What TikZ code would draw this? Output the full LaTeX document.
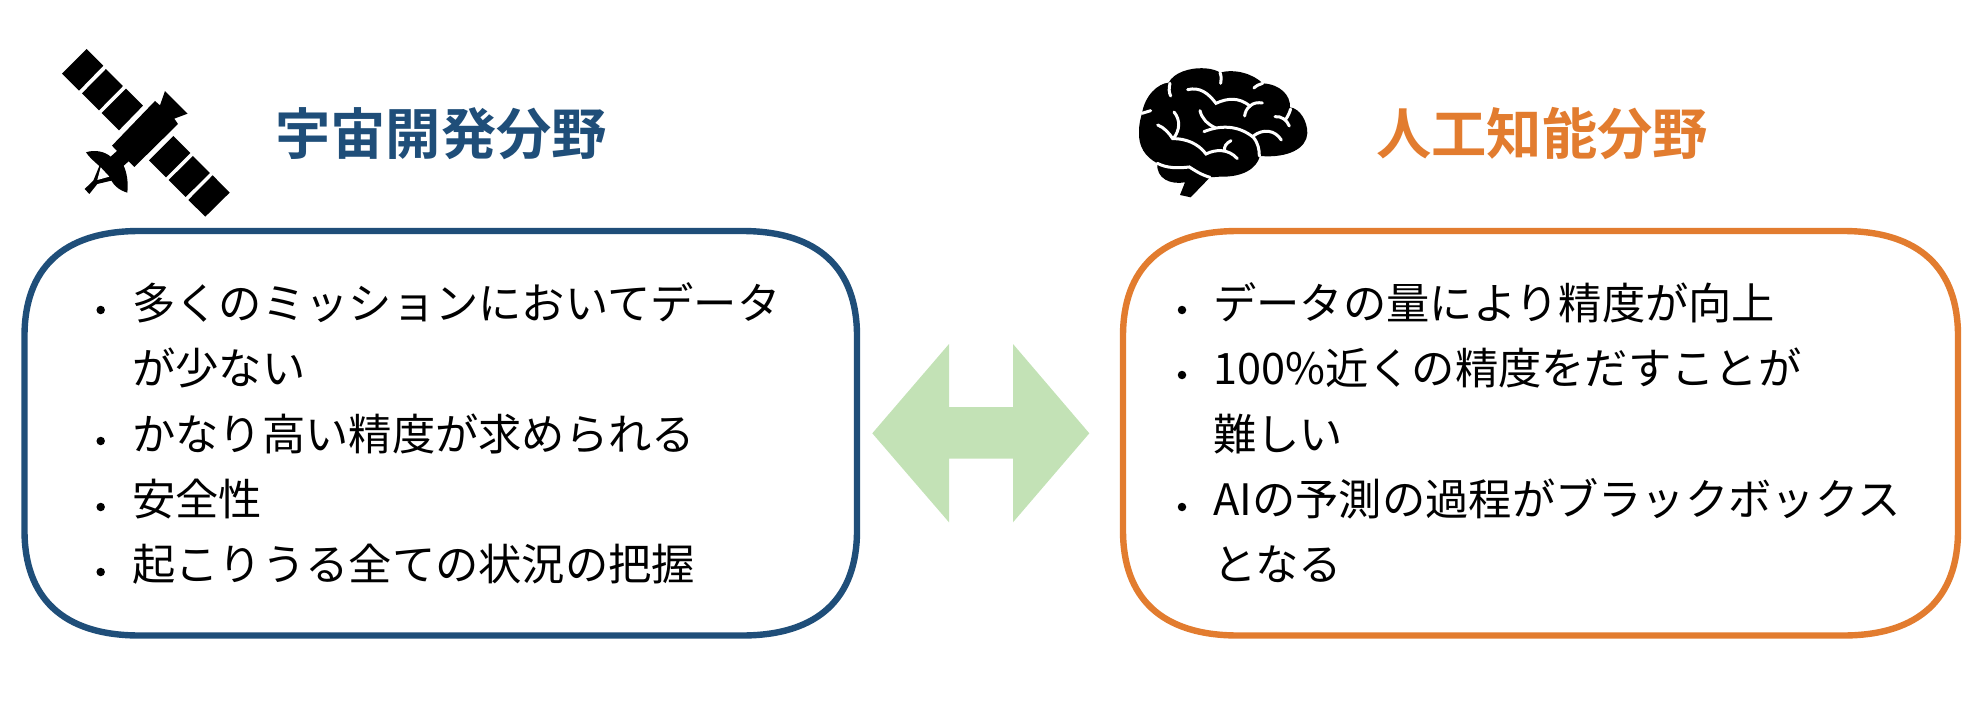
\documentclass[tikz,border=0pt]{standalone}
\usepackage{fontspec}
\setmainfont{Noto Sans CJK JP}
\newfontfamily\titlefont{Noto Sans CJK JP Bold}
\definecolor{spaceblue}{HTML}{1F4E79}
\definecolor{aiorange}{HTML}{E27C2F}
\definecolor{arrowgreen}{HTML}{C3E2B6}
\tikzset{
  listline/.style={anchor=base west,inner sep=0pt,font=\fontsize{43.3}{43.3}\selectfont},
  titletext/.style={anchor=base west,inner sep=0pt,font=\titlefont\fontsize{55.3}{55.3}\selectfont},
  panelbox/.style={line width=6.4pt,fill=white},
  dot/.style={circle,fill=black,inner sep=0pt,minimum size=8.5pt},
  sulcus/.style={draw=white,line width=3pt,line cap=round,fill=none}
}
\newcommand{\softbox}[5]{%
  \draw[panelbox,draw=#5] (#1+115,#2) -- (#3-115,#2)
    .. controls (#3-38,#2) and (#3,#2+38) .. (#3,#2+105)
    -- (#3,#4-105)
    .. controls (#3,#4-38) and (#3-38,#4) .. (#3-115,#4)
    -- (#1+115,#4)
    .. controls (#1+38,#4) and (#1,#4-38) .. (#1,#4-105)
    -- (#1,#2+105)
    .. controls (#1,#2+38) and (#1+38,#2) .. (#1+115,#2) -- cycle;}
\begin{document}
\begin{tikzpicture}[x=1pt,y=-1pt]
\useasboundingbox (0,0) rectangle (1986,706);
% boxes
\softbox{24.5}{231}{857}{635.5}{spaceblue}
\softbox{1123}{231}{1958}{635.5}{aiorange}
% double arrow
\fill[arrowgreen] (872.3,433.3) -- (949,344) -- (949,407) -- (1013,407) -- (1013,344)
  -- (1089.3,433.3) -- (1013,522.3) -- (1013,458.7) -- (949,458.7) -- (949,522.3) -- cycle;
% satellite
\begin{scope}[shift={(40,30)},x=0.3333pt,y=-0.3333pt]
  \fill (140,57) -- (190,107) -- (117,182) -- (66,131) -- cycle;
  \fill (198,117) -- (249,168) -- (177,241) -- (126,190) -- cycle;
  \fill (258,176) -- (309,227) -- (237,301) -- (185,249) -- cycle;
  \fill (400,318) -- (451,369) -- (378,442) -- (327,391) -- cycle;
  \fill (459,378) -- (510,429) -- (437,501) -- (386,450) -- cycle;
  \fill (518,436) -- (569,488) -- (496,560) -- (445,510) -- cycle;
  \fill (345,213) -- (360,226) -- (375,183) -- (443,251) -- (403,266) -- (414,282)
    -- (283,411) -- (266,394) -- (248,410) -- (218,378) -- (232,364) -- (216,347) -- cycle;
  \fill (138,367) .. controls (165,358) and (195,365) .. (212,380) -- (232,362)
    -- (250,405) .. controls (262,430) and (265,460) .. (262,488)
    .. controls (235,480) and (222,465) .. (214,452) -- (172,462) -- (148,492) -- (134,477)
    -- (160,452) -- (178,408) .. controls (160,392) and (148,382) .. (138,367) -- cycle;
  \fill[white] (182,412) -- (172,450) -- (208,440) -- cycle;
\end{scope}
% brain
\begin{scope}[shift={(1120,50)},x=0.3333pt,y=-0.3333pt]
  \fill (112,340) .. controls (75,320) and (55,290) .. (57,245)
    .. controls (57,220) and (62,205) .. (66,190)
    .. controls (75,135) and (115,100) .. (146,98)
    .. controls (160,70) and (205,52) .. (255,55)
    .. controls (275,56) and (292,62) .. (300,68)
    .. controls (345,55) and (400,72) .. (428,100)
    .. controls (480,103) and (512,135) .. (510,172)
    .. controls (540,175) and (563,215) .. (562,250)
    .. controls (560,295) and (505,325) .. (420,318)
    .. controls (410,355) and (370,382) .. (300,380)
    -- (270,382) -- (212,442) -- (180,435) -- (195,397)
    .. controls (150,405) and (108,385) .. (112,340) -- cycle;
  \draw[sulcus] (112,340) .. controls (140,355) and (175,355) .. (208,351) .. controls (225,362) and (245,375) .. (270,382);
  \draw[sulcus] (66,190) -- (92,182);
  \draw[sulcus] (150,100) .. controls (146,115) and (147,128) .. (152,138);
  \draw[sulcus] (300,68) .. controls (305,80) and (304,90) .. (302,100);
  \draw[sulcus] (428,100) .. controls (418,102) and (408,108) .. (402,114);
  \draw[sulcus] (203,119) .. controls (240,110) and (265,130) .. (288,160) .. controls (320,145) and (355,140) .. (390,168) .. controls (400,158) and (415,157) .. (427,159);
  \draw[sulcus] (390,168) .. controls (380,175) and (375,188) .. (374,198);
  \draw[sulcus] (512,177) .. controls (508,190) and (503,200) .. (497,208);
  \draw[sulcus] (465,200) .. controls (485,198) and (500,210) .. (508,228);
  \draw[sulcus] (240,182) .. controls (245,205) and (262,222) .. (285,233);
  \draw[sulcus] (252,245) .. controls (300,225) and (355,225) .. (400,262) .. controls (415,280) and (418,300) .. (418,318);
  \draw[sulcus] (400,258) .. controls (430,235) and (465,240) .. (484,270);
  \draw[sulcus] (162,186) .. controls (182,210) and (180,240) .. (160,266);
  \draw[sulcus] (113,225) .. controls (132,232) and (148,250) .. (158,266) .. controls (195,265) and (235,280) .. (258,312) .. controls (285,298) and (325,295) .. (352,326);
  \draw[sulcus] (333,272) .. controls (318,280) and (312,290) .. (314,300);
\end{scope}
% titles
\node[titletext,text=spaceblue] (spacetitle) at (275,154) {宇宙開発分野};
\node[titletext,text=aiorange] (aititle) at (1376,154) {人工知能分野};
% left list
\node[dot] (lb1) at (100.7,310) {};
\node[listline] (l1) at (132,319) {多くのミッションにおいてデータ};
\node[listline] (l2) at (132,384) {が少ない};
\node[dot] (lb2) at (100.7,441) {};
\node[listline] (l3) at (132,450) {かなり高い精度が求められる};
\node[dot] (lb3) at (100.7,507) {};
\node[listline] (l4) at (132,515.5) {安全性};
\node[dot] (lb4) at (100.7,572) {};
\node[listline] (l5) at (132,580) {起こりうる全ての状況の把握};
% right list
\node[dot] (rb1) at (1182,310) {};
\node[listline] (r1) at (1213,319) {データの量により精度が向上};
\node[dot] (rb2) at (1182,375) {};
\node[listline] (r2) at (1213,384) {100\%近くの精度をだすことが};
\node[listline] (r3) at (1213,450) {難しい};
\node[dot] (rb3) at (1182,507) {};
\node[listline] (r4) at (1213,515) {AIの予測の過程がブラックボックス};
\node[listline] (r5) at (1213,580) {となる};
\end{tikzpicture}
\end{document}
